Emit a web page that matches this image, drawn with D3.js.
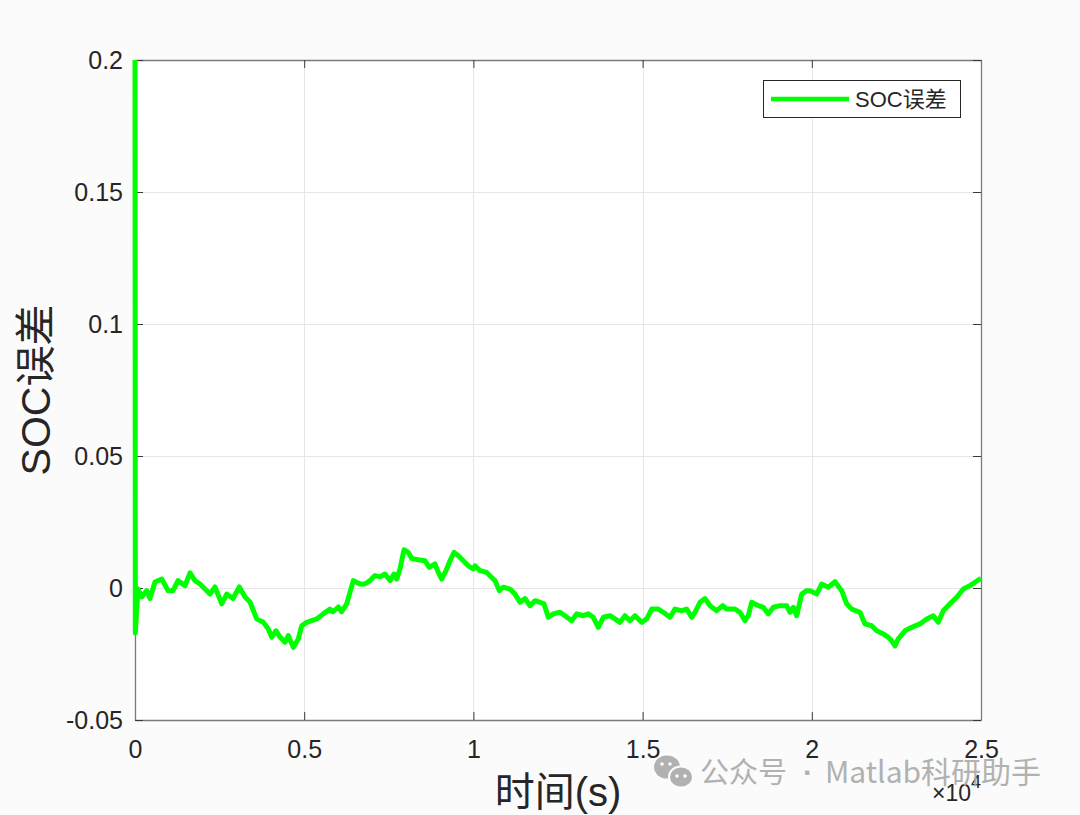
<!DOCTYPE html>
<html><head><meta charset="utf-8">
<script src="https://cdn.jsdelivr.net/npm/d3@7"></script>
<style>
html,body{margin:0;padding:0;background:#fbfbfb;}
svg{display:block;}
</style></head>
<body>
<script>
// ---- data (time in s, SOC error) ----
const timeS = [0,10,89,198,346,443,591,789,975,1123,1271,1478,1625,1773,1921,2069,2216,2364,2562,2710,2896,3082,3251,3398,3596,3791,3939,4039,4167,4285,4433,4530,4678,4826,4926,5074,5369,5564,5762,5851,6008,6108,6256,6451,6650,6797,6944,7092,7240,7388,7535,7654,7733,7831,7949,8077,8177,8372,8570,8697,8865,8963,9063,9190,9309,9427,9554,9702,9849,9997,10047,10195,10393,10541,10638,10765,10883,11081,11229,11377,11524,11672,11820,11968,12086,12213,12361,12559,12707,12905,13052,13247,13395,13543,13691,13839,14036,14184,14332,14480,14627,14775,14973,15121,15269,15464,15612,15810,15957,16155,16303,16451,16548,16696,16844,16992,17190,17367,17485,17730,17878,18026,18124,18224,18419,18567,18715,18862,19060,19258,19356,19453,19554,19701,19849,19947,20145,20292,20488,20685,20883,21031,21179,21424,21572,21770,21917,22113,22261,22361,22458,22556,22754,22952,23197,23395,23590,23738,23886,24084,24282,24477,24675,24823,25000];
const socError = [0.2,-0.017,-0.0004,-0.0034,-0.001,-0.004,0.0023,0.0034,-0.001,-0.001,0.0028,0.0009,0.0057,0.0028,0.0015,-0.0004,-0.0023,0.0004,-0.006,-0.0023,-0.004,0.0004,-0.0034,-0.0053,-0.0117,-0.013,-0.0155,-0.0186,-0.0162,-0.0186,-0.0205,-0.018,-0.0225,-0.0193,-0.0143,-0.013,-0.0117,-0.0098,-0.008,-0.009,-0.0072,-0.009,-0.006,0.0028,0.0015,0.0015,0.0028,0.0047,0.0042,0.0053,0.0028,0.0053,0.0034,0.0072,0.0145,0.0135,0.0112,0.0107,0.0103,0.0078,0.0091,0.0059,0.0034,0.0066,0.0103,0.0135,0.0122,0.0103,0.0084,0.0072,0.0084,0.0066,0.0059,0.004,0.0028,-0.001,0.0003,-0.0004,-0.0023,-0.0054,-0.004,-0.0067,-0.0048,-0.0054,-0.006,-0.0111,-0.0098,-0.0092,-0.0105,-0.0124,-0.0098,-0.0105,-0.0098,-0.0111,-0.0149,-0.0111,-0.0105,-0.0117,-0.013,-0.0105,-0.0124,-0.0105,-0.013,-0.0117,-0.008,-0.008,-0.0092,-0.0111,-0.008,-0.0086,-0.008,-0.0111,-0.0092,-0.0054,-0.004,-0.0067,-0.0086,-0.0067,-0.008,-0.008,-0.0092,-0.0124,-0.0105,-0.0054,-0.0067,-0.0073,-0.0098,-0.0073,-0.0067,-0.0067,-0.0092,-0.0073,-0.0105,-0.0023,-0.001,-0.001,-0.0023,0.0015,0.0003,0.0024,-0.001,-0.006,-0.008,-0.0092,-0.0136,-0.0143,-0.0162,-0.0174,-0.0187,-0.02,-0.0219,-0.0193,-0.0162,-0.0149,-0.0136,-0.0117,-0.0105,-0.013,-0.0086,-0.006,-0.0035,-0.0004,0.0009,0.0022,0.0037];
const xTicks = [0,5000,10000,15000,20000,25000];
const xTickLabels = ["0","0.5","1","1.5","2","2.5"];
const yTicks = [-0.05,0,0.05,0.1,0.15,0.2];
const yTickLabels = ["-0.05","0","0.05","0.1","0.15","0.2"];
const seriesName = "SOC误差";
const xLabel = "时间(s)";
const yLabel = "SOC误差";
const watermarkParts = ["公众号", "·", "Matlab科研助手"];

// ---- layout ----
const W = 1080, H = 815;
const L = 135, R = 981, T = 60, B = 720;
const latin = "'Liberation Sans', Arial, 'Noto Sans CJK SC', sans-serif";

const svg = d3.select("body").append("svg").attr("width", W).attr("height", H);
svg.append("rect").attr("width", W).attr("height", H).attr("fill", "#fbfbfb");

const x = d3.scaleLinear().domain([0, 25000]).range([L, R]);
const y = d3.scaleLinear().domain([-0.05, 0.2]).range([B, T]);

svg.append("rect").attr("x", L).attr("y", T).attr("width", R - L).attr("height", B - T).attr("fill", "#ffffff");

// grid
const grid = svg.append("g").attr("stroke", "#e6e6e6").attr("stroke-width", 1);
grid.selectAll(".gx").data(xTicks.slice(1, -1)).enter().append("line")
  .attr("x1", d => Math.round(x(d)) + 0.5).attr("x2", d => Math.round(x(d)) + 0.5)
  .attr("y1", T).attr("y2", B);
grid.selectAll(".gy").data(yTicks.slice(1, -1)).enter().append("line")
  .attr("y1", d => Math.round(y(d)) + 0.5).attr("y2", d => Math.round(y(d)) + 0.5)
  .attr("x1", L).attr("x2", R);

// axes via d3 axis (inward ticks)
const tickLen = 8;
const xAxis = d3.axisBottom(x).tickValues(xTicks).tickFormat((d, i) => xTickLabels[i])
  .tickSizeInner(-tickLen).tickSizeOuter(0).tickPadding(20);
const gx = svg.append("g").attr("transform", `translate(0,${B})`).call(xAxis);
gx.select(".domain").attr("stroke", "#7a7a7a").attr("stroke-width", 1.3);
gx.selectAll(".tick line").attr("stroke", "#3a3a3a");
gx.selectAll(".tick text").attr("font-family", latin).attr("font-size", 25).attr("fill", "#262626");

const xAxisTop = d3.axisTop(x).tickValues(xTicks).tickFormat("").tickSizeInner(-tickLen).tickSizeOuter(0);
const gxt = svg.append("g").attr("transform", `translate(0,${T})`).call(xAxisTop);
gxt.select(".domain").attr("stroke", "#7a7a7a").attr("stroke-width", 1.3);
gxt.selectAll(".tick line").attr("stroke", "#3a3a3a");

const yAxis = d3.axisLeft(y).tickValues(yTicks).tickFormat((d, i) => yTickLabels[i])
  .tickSizeInner(-tickLen).tickSizeOuter(0).tickPadding(12);
const gy = svg.append("g").attr("transform", `translate(${L},0)`).call(yAxis);
gy.select(".domain").attr("stroke", "#7a7a7a").attr("stroke-width", 1.3);
gy.selectAll(".tick line").attr("stroke", "#3a3a3a");
gy.selectAll(".tick text").attr("font-family", latin).attr("font-size", 25).attr("fill", "#262626");

const yAxisRight = d3.axisRight(y).tickValues(yTicks).tickFormat("").tickSizeInner(-tickLen).tickSizeOuter(0);
const gyr = svg.append("g").attr("transform", `translate(${R},0)`).call(yAxisRight);
gyr.select(".domain").attr("stroke", "#7a7a7a").attr("stroke-width", 1.3);
gyr.selectAll(".tick line").attr("stroke", "#3a3a3a");

// data line
const pts = timeS.map((t, i) => [t, socError[i]]);
svg.append("path").datum(pts)
  .attr("fill", "none").attr("stroke", "#00ff00").attr("stroke-width", 5)
  .attr("stroke-linejoin", "round").attr("stroke-linecap", "butt")
  .attr("d", d3.line().x(d => x(d[0])).y(d => y(d[1])));

// exponent label
const ex = svg.append("text").attr("x", R).attr("y", 801).attr("text-anchor", "end")
  .attr("font-family", latin).attr("fill", "#262626");
ex.append("tspan").attr("font-size", 23).text("×10");
ex.append("tspan").attr("font-size", 18).attr("dy", -13).text("4");

// axis labels
svg.append("text").attr("x", (L + R) / 2).attr("y", 806).attr("text-anchor", "middle")
  .attr("font-family", latin).attr("font-size", 40).attr("fill", "#262626").text(xLabel);
svg.append("text").attr("transform", `translate(50,${(T + B) / 2}) rotate(-90)`)
  .attr("text-anchor", "middle").attr("font-family", latin).attr("font-size", 41)
  .attr("fill", "#262626").text(yLabel);

// legend
const lg = svg.append("g");
lg.append("rect").attr("x", 763.5).attr("y", 80.5).attr("width", 197).attr("height", 37)
  .attr("fill", "#ffffff").attr("stroke", "#262626").attr("stroke-width", 1);
lg.append("line").attr("x1", 771).attr("x2", 849).attr("y1", 99).attr("y2", 99)
  .attr("stroke", "#00ff00").attr("stroke-width", 4.5);
lg.append("text").attr("x", 855).attr("y", 107).attr("font-family", latin)
  .attr("font-size", 22).attr("fill", "#262626").text(seriesName);

// watermark
const wm = svg.append("g").attr("opacity", 0.9);
wm.append("ellipse").attr("cx", 667).attr("cy", 767).attr("rx", 13).attr("ry", 11.5).attr("fill", "#aaaaaa");
wm.append("ellipse").attr("cx", 681).attr("cy", 777).attr("rx", 12).attr("ry", 10.5).attr("fill", "#aaaaaa").attr("stroke", "#fbfbfb").attr("stroke-width", 2);
[[662,764],[670,764],[677,776],[685,776]].forEach(p => wm.append("circle").attr("cx", p[0]).attr("cy", p[1]).attr("r", 1.8).attr("fill", "#fbfbfb"));
const wmFont = "'Noto Sans CJK SC', 'Noto Sans', sans-serif";
wm.append("text").attr("x", 700).attr("y", 783).attr("font-family", wmFont)
  .attr("font-size", 29).attr("fill", "#aaaaaa").text(watermarkParts[0]);
wm.append("text").attr("x", 808).attr("y", 783).attr("text-anchor", "middle").attr("font-family", "'Liberation Sans', sans-serif")
  .attr("font-size", 30).attr("font-weight", "bold").attr("fill", "#aaaaaa").text(watermarkParts[1]);
wm.append("text").attr("x", 825).attr("y", 783).attr("font-family", wmFont)
  .attr("font-size", 30).attr("fill", "#aaaaaa")
  .text(watermarkParts[2]);
</script>
</body></html>
